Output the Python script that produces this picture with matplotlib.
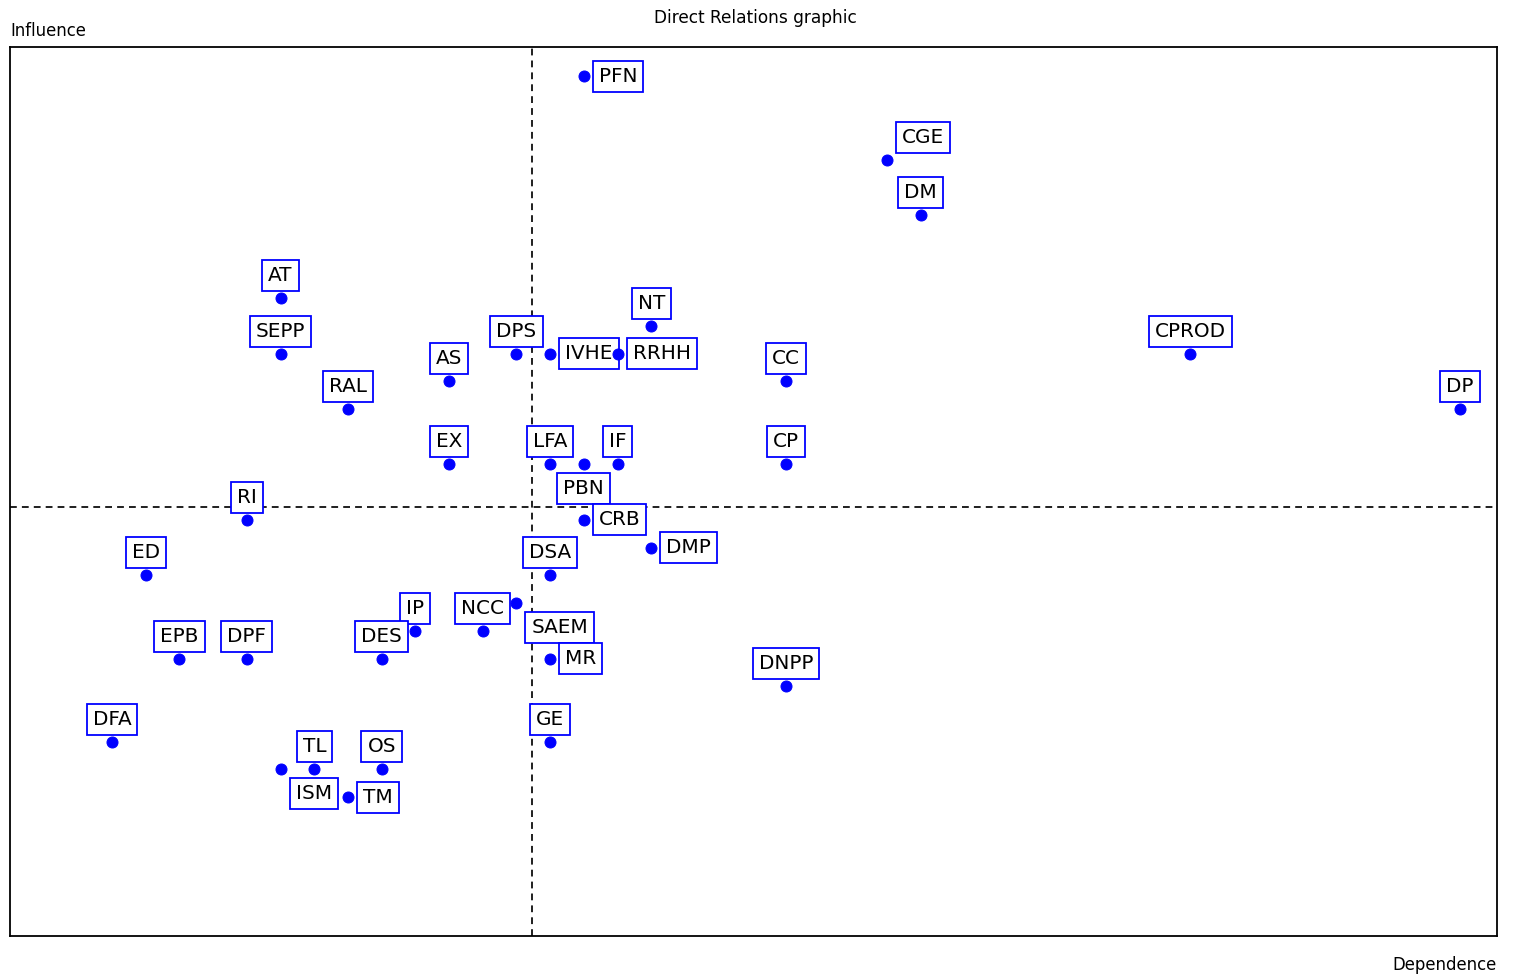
#!/usr/bin/env python3
"""
Direct Relations graphic (MICMAC style influence / dependence map)
"""
import numpy as np
import matplotlib
matplotlib.use("Agg")
import matplotlib.pyplot as plt

# variables
labels = ["PFN", "CGE", "DM", "AT", "NT", "SEPP", "DPS", "IVHE", "RRHH", "CPROD",
          "AS", "CC", "RAL", "DP", "EX", "LFA", "PBN", "IF", "CP", "RI",
          "CRB", "DMP", "ED", "DSA", "SAEM", "NCC", "IP", "EPB", "DPF", "DES",
          "MR", "DNPP", "DFA", "GE", "ISM", "TL", "OS", "TM"]
dependence = [17, 26, 27, 8, 19, 8, 15, 16, 18, 35,
              13, 23, 10, 43, 13, 16, 17, 18, 23, 7,
              17, 19, 4, 16, 15, 14, 12, 5, 7, 11,
              16, 23, 3, 16, 8, 9, 11, 10]
influence = [31, 28, 26, 23, 22, 21, 21, 21, 21, 21,
             20, 20, 19, 19, 17, 17, 17, 17, 17, 15,
             15, 14, 13, 13, 12, 11, 11, 10, 10, 10,
             10, 9, 7, 7, 6, 6, 6, 5]

# label placement (default: above the point)
placement = {"PFN": "r", "CGE": "ur", "IVHE": "r", "RRHH": "r", "PBN": "b",
             "CRB": "r", "DMP": "r", "SAEM": "lr", "MR": "r", "ISM": "lr", "TM": "r"}

W, H = 1515, 976
fig = plt.figure(figsize=(W / 72, H / 72), dpi=72)
ax = fig.add_axes([10 / W, (H - 936) / H, (1497 - 10) / W, (936 - 47) / H])

blue = "#0000ff"
# points drawn above the label boxes
ax.plot(dependence, influence, "o", color=blue, markersize=11, zorder=5)

# mean lines
ax.axvline(np.mean(dependence), color="black", ls=(0, (4, 3)), lw=1.7, zorder=1)
ax.axhline(np.mean(influence), color="black", ls=(0, (4, 3)), lw=1.7, zorder=1)

fs = 20
pad = 6
box = dict(boxstyle=f"square,pad={pad / fs}", fc="white", ec=blue, lw=1.8)
offsets = {
    "a": ((0, 7 + pad), "center", "bottom"),
    "b": ((0, -9 - pad), "center", "top"),
    "r": ((9 + pad, 0), "left", "center"),
    "ur": ((9 + pad, 7 + pad), "left", "bottom"),
    "lr": ((9 + pad, -9 - pad), "left", "top"),
}
for name, x, y in zip(labels, dependence, influence):
    off, ha, va = offsets[placement.get(name, "a")]
    ax.annotate(name, (x, y), xytext=off, textcoords="offset pixels",
                ha=ha, va=va, fontsize=fs, color="black", bbox=box, zorder=4)

ax.set_xlim(-0.03, 44.1)
ax.set_ylim(-0.01, 32.06)
ax.set_xticks([])
ax.set_yticks([])
for s in ax.spines.values():
    s.set_linewidth(1.8)
    s.set_color("black")

fig.text(755 / W, 1 - 18 / H, "Direct Relations graphic", ha="center", va="center", fontsize=17)
fig.text(10 / W, 1 - 31 / H, "Influence", ha="left", va="center", fontsize=16.5)
fig.text(1497 / W, 1 - 965 / H, "Dependence", ha="right", va="center", fontsize=16.5)

fig.savefig("out.png", dpi=72, facecolor="white")
